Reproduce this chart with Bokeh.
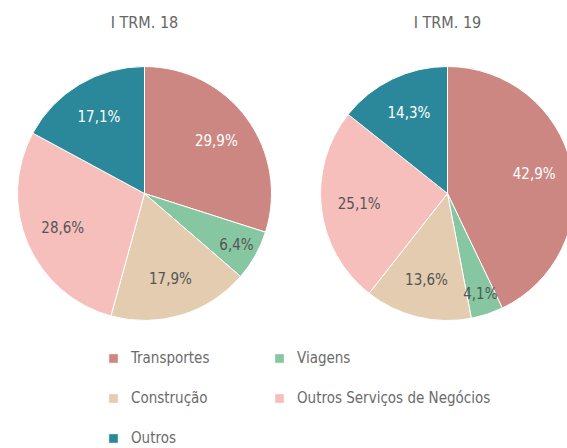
import numpy as np
from bokeh.plotting import figure
from bokeh.models import ColumnDataSource, Range1d, Legend, LegendItem
from bokeh.core.properties import value
from bokeh.embed import file_html
from bokeh.resources import INLINE

categories = ["Transportes", "Viagens", "Construção", "Outros Serviços de Negócios", "Outros"]
periods = ["I TRM. 18", "I TRM. 19"]
values_18 = [29.9, 6.4, 17.9, 28.6, 17.1]
values_19 = [42.9, 4.1, 13.6, 25.1, 14.3]
labels_18 = ["29,9%", "6,4%", "17,9%", "28,6%", "17,1%"]
labels_19 = ["42,9%", "4,1%", "13,6%", "25,1%", "14,3%"]

colors = ["#CD8782", "#86C6A1", "#E3CCB0", "#F6BFBC", "#2A889A"]
label_colors = ["#FFFFFF", "#555555", "#555555", "#555555", "#FFFFFF"]

FONT = "DejaVu Sans Condensed"
W, H = 567, 448
R = 127
centers = [(144, H - 193), (447, H - 193)]

p = figure(width=W, height=H, x_range=Range1d(0, W), y_range=Range1d(0, H),
           output_backend="svg", toolbar_location=None, x_axis_type=None,
           y_axis_type=None, min_border=0, outline_line_color=None)
p.grid.visible = False

renderers = []
for (cx, cy), vals, labs, title in zip(centers, [values_18, values_19],
                                       [labels_18, labels_19], periods):
    v = np.array(vals, dtype=float)
    frac = v / v.sum()
    cum = np.concatenate([[0], np.cumsum(frac)])
    start = np.pi / 2 - 2 * np.pi * cum[:-1]
    end = np.pi / 2 - 2 * np.pi * cum[1:]
    mid = (start + end) / 2
    rl = np.where(v < 8, 0.83, 0.7) * R
    src = ColumnDataSource(dict(
        x=[cx] * 5, y=[cy] * 5, start=start, end=end, color=colors,
        lx=cx + rl * np.cos(mid), ly=cy + rl * np.sin(mid),
        text=labs, tcolor=label_colors))
    r = p.wedge(x="x", y="y", radius=R, start_angle="start", end_angle="end",
                direction="clock", fill_color="color", line_color="white",
                line_width=1, source=src)
    renderers.append(r)
    p.text(x="lx", y="ly", text="text", text_color="tcolor", source=src,
           text_align="center", text_baseline="middle",
           text_font=value(FONT), text_font_size="15px")
    p.text(x=[cx], y=[H - 22], text=[title], text_align="center",
           text_baseline="middle", text_font=value(FONT),
           text_font_size="16px", text_color="#666666")

items = [LegendItem(label=c, renderers=[renderers[0]], index=i)
         for i, c in enumerate(categories)]
legend = Legend(items=items, location=(107, 0), orientation="horizontal", ncols=2,
                glyph_width=12, glyph_height=12, label_standoff=12,
                label_width=122, label_height=20, spacing=20, padding=0, margin=0,
                border_line_color=None, background_fill_alpha=0,
                label_text_font=FONT, label_text_font_size="15px",
                label_text_color="#6B6B6B")
p.add_layout(legend, "center")

open("out.html", "w").write(file_html(p, INLINE))
